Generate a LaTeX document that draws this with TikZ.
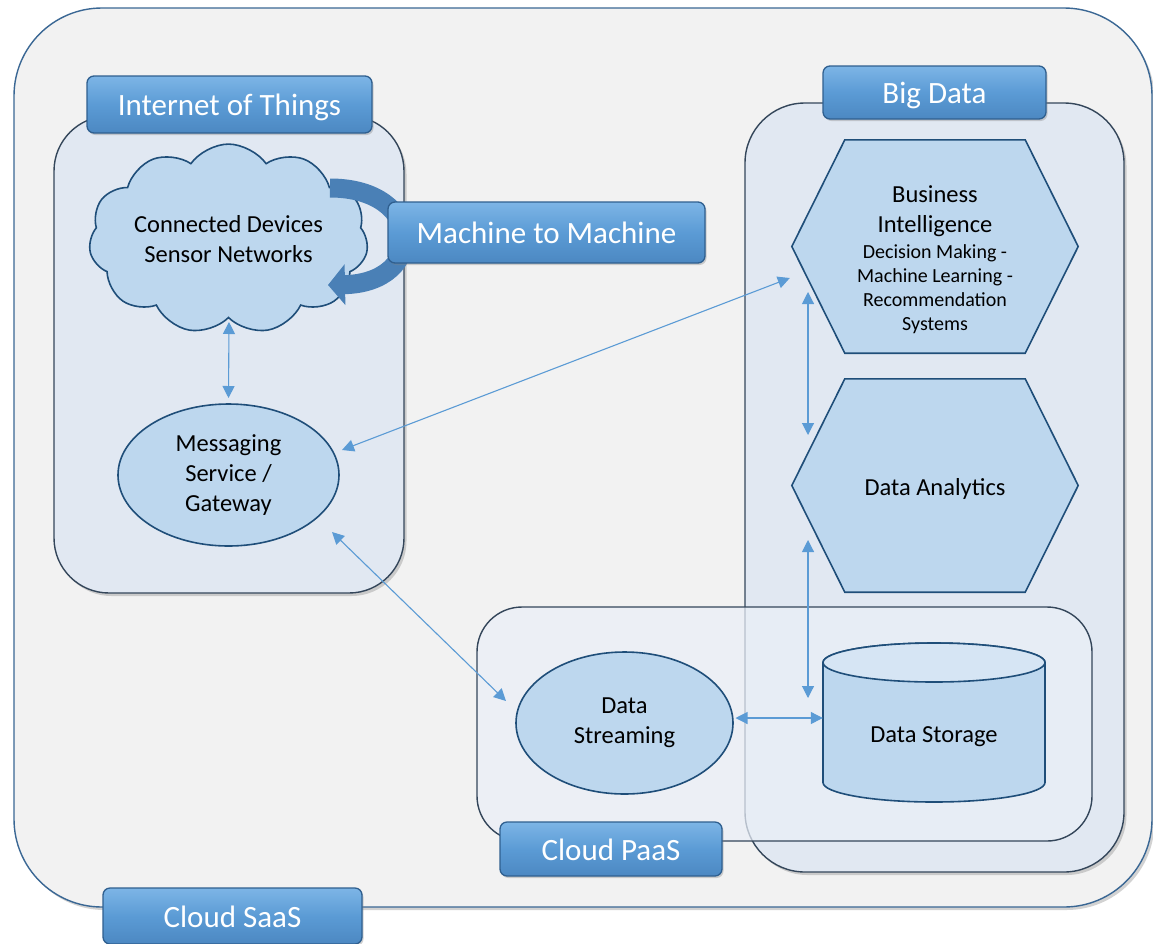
\documentclass[tikz,border=0pt]{standalone}
\usepackage{fontspec}
\setmainfont{Carlito}
\usetikzlibrary{arrows.meta,shapes.geometric,shapes.symbols,shadows,calc}
\definecolor{outerfill}{HTML}{F2F2F2}
\definecolor{outerline}{HTML}{3A6794}
\definecolor{contfill}{HTML}{E1E8F2}
\definecolor{paasfill}{HTML}{EAEFF7}
\definecolor{contline}{HTML}{34465A}
\definecolor{shpfill}{HTML}{BDD7EE}
\definecolor{shpline}{HTML}{1F4E79}
\definecolor{cyltop}{HTML}{D6E5F4}
\definecolor{lblfill}{HTML}{5B9BD5}
\definecolor{lbltop}{HTML}{7DB5E6}
\definecolor{lblbot}{HTML}{4C88C2}
\definecolor{lblline}{HTML}{2F5F8F}
\definecolor{arrowc}{HTML}{5B9BD5}
\definecolor{mtom}{HTML}{4A80B6}
\begin{document}
\begin{tikzpicture}[x=1pt,y=-1pt,
  cont/.style={draw=contline,line width=1.4pt,fill=contfill,inner sep=0pt,
    drop shadow={opacity=0.35,shadow xshift=2.5pt,shadow yshift=-3pt}},
  lbl/.style={draw=lblline,line width=1.3pt,rounded corners=7pt,top color=lbltop,bottom color=lblbot,middle color=lblfill,text=white,inner sep=0pt,text height=28pt,text depth=6pt,font=\fontsize{31}{36}\selectfont,drop shadow={opacity=0.35,shadow xshift=1.5pt,shadow yshift=-2pt}},
  shp/.style={draw=shpline,line width=1.6pt,fill=shpfill},
  txt/.style={font=\fontsize{24.5}{30}\selectfont,align=center,text=black},
  smalltxt/.style={font=\fontsize{20}{24}\selectfont,align=center,text=black},
  hexbox/.style={minimum width=286pt,minimum height=213pt,inner sep=0pt},
  conn/.style={draw=arrowc,line width=1.1pt,{Triangle[length=12pt,width=12pt]}-{Triangle[length=12pt,width=12pt]}}
]
\useasboundingbox (0,0) rectangle (1153,943);
\fill[white] (0,0) rectangle (1153,943);

% containers
\node[cont,draw=outerline,fill=outerfill,rounded corners=88pt,minimum width=1138pt,minimum height=899pt] (saas) at (583,457.5) {};
\node[cont,rounded corners=55pt,minimum width=350pt,minimum height=477pt] (iot) at (229,354.5) {};
\node[cont,rounded corners=60pt,minimum width=379pt,minimum height=769pt] (bigdata) at (934.5,487.5) {};
\node[draw=contline,line width=1.4pt,fill=paasfill,fill opacity=0.72,inner sep=0pt,rounded corners=45pt,minimum width=615pt,minimum height=234pt] (paas) at (784.5,724) {};

% IoT content
\node[shp,cloud,cloud puffs=11,cloud puff arc=110,aspect=1.7,minimum width=267pt,minimum height=158pt,inner sep=0pt,txt] (cloud) at (228.5,239) {Connected Devices\\Sensor Networks};
\draw[mtom,line width=19pt,-{Triangle[length=17pt,width=40pt]}] ($(cloud.center)+(101.5,-51)$) .. controls +(95,0) and +(100,-2) .. ($(cloud.center)+(99.5,46)$);
\node[shp,ellipse,minimum width=221pt,minimum height=142pt,inner sep=0pt,txt] (msg) at (228.5,475) {Messaging\\Service /\\Gateway};

% Big Data content
\node[hexbox] (bi) at (935,246.5) {};
\draw[shp] (bi.west) -- ($(bi.north west)+(53,0)$) -- ($(bi.north east)+(-53,0)$) -- (bi.east) -- ($(bi.south east)+(-53,0)$) -- ($(bi.south west)+(53,0)$) -- cycle;
\node[txt] (bititle) at ($(bi.center)+(0,-35)$) {Business\\Intelligence};
\node[smalltxt] (bisub) at ($(bi.center)+(0,43)$) {Decision Making -\\Machine Learning -\\Recommendation\\Systems};

\node[hexbox] (da) at (935,485.5) {};
\draw[shp] (da.west) -- ($(da.north west)+(53,0)$) -- ($(da.north east)+(-53,0)$) -- (da.east) -- ($(da.south east)+(-53,0)$) -- ($(da.south west)+(53,0)$) -- cycle;
\node[txt] (datext) at ($(da.center)+(0,3)$) {Data Analytics};

\node[minimum width=222pt,minimum height=159pt,inner sep=0pt] (ds) at (934,722.5) {};
\draw[shp] ($(ds.center)+(-111,-60)$) -- ($(ds.center)+(-111,60)$) arc[start angle=180,end angle=360,x radius=111pt,y radius=19.5pt] -- ($(ds.center)+(111,-60)$) arc[start angle=0,end angle=180,x radius=111pt,y radius=19.5pt] -- cycle;
\draw[shp,fill=cyltop] ($(ds.center)+(0,-60)$) ellipse[x radius=111pt,y radius=19.5pt];
\node[txt] (dstext) at ($(ds.center)+(0,14.5)$) {Data Storage};

% PaaS content
\node[shp,ellipse,minimum width=217pt,minimum height=142pt,inner sep=0pt,txt] (stream) at (624.5,723) {Data\\Streaming};

% connectors
\draw[conn] ($(msg.center)+(0,-77)$) -- ($(cloud.center)+(0.5,83)$);
\draw[conn] ($(msg.center)+(113.5,-25)$) -- ($(bi.west)+(-2,31.5)$);
\draw[conn] ($(msg.center)+(103.5,57)$) -- ($(stream.center)+(-118.5,-22)$);
\draw[conn] ($(stream.center)+(111,-5)$) -- ($(ds.west)+(0,-4.5)$);
\draw[conn] ($(bi.center)+(-127,45.5)$) -- ($(da.center)+(-127,-50.5)$);
\draw[conn] ($(da.center)+(-127,54.5)$) -- ($(ds.center)+(-126,-24.5)$);

% labels
\node[lbl,minimum width=285pt,minimum height=57pt] (iotl) at (229.5,104.5) {Internet of Things};
\node[lbl,minimum width=223pt,minimum height=53pt] (bdl) at (934.5,92.5) {Big Data};
\node[lbl,minimum width=317pt,minimum height=61pt] (m2ml) at (546.5,232.5) {Machine to Machine};
\node[lbl,minimum width=222pt,minimum height=54pt] (paasl) at (611,849) {Cloud PaaS};
\node[lbl,minimum width=259pt,minimum height=56pt] (saasl) at (232.5,916) {Cloud SaaS};
\end{tikzpicture}
\end{document}
